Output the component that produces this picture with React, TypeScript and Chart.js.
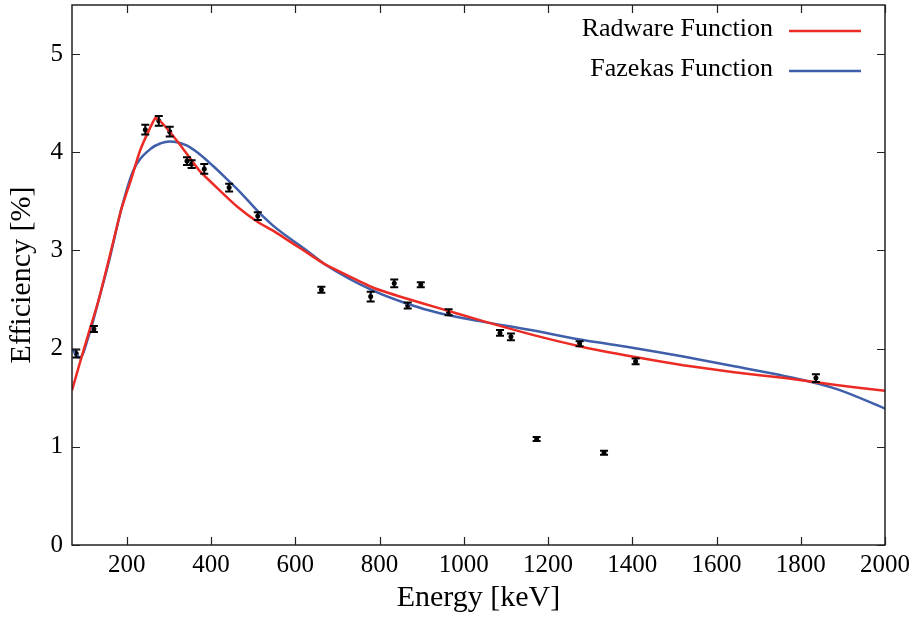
import React, { useEffect, useRef } from "react";
import { Chart, registerables } from "chart.js";

Chart.register(...registerables);

// Measured data points
const energies = [80, 122, 244, 276, 302, 343, 354, 384, 443, 511, 662, 779, 835, 867, 898, 964, 1086, 1112, 1173, 1275, 1333, 1408, 1836];
const efficiency = [1.95, 2.20, 4.23, 4.32, 4.21, 3.91, 3.88, 3.83, 3.64, 3.35, 2.60, 2.53, 2.665, 2.44, 2.65, 2.37, 2.16, 2.12, 1.08, 2.05, 0.94, 1.87, 1.70];
const errors = [0.04, 0.03, 0.05, 0.05, 0.05, 0.04, 0.04, 0.05, 0.04, 0.04, 0.03, 0.05, 0.04, 0.03, 0.025, 0.03, 0.03, 0.035, 0.02, 0.025, 0.02, 0.03, 0.04];

// Radware fit curve
const radwareE = [70, 89, 109, 133, 160, 187, 210, 231, 250, 268, 276, 294, 326, 373, 421, 464, 511, 548, 627, 670, 785, 864, 943, 1038, 1159, 1280, 1400, 1521, 1642, 1763, 1884, 2000];
const radwareEff = [1.575, 1.86, 2.15, 2.49, 2.95, 3.42, 3.72, 4.01, 4.20, 4.35, 4.33, 4.25, 4.08, 3.81, 3.61, 3.44, 3.29, 3.20, 2.98, 2.86, 2.62, 2.51, 2.41, 2.29, 2.145, 2.02, 1.92, 1.83, 1.76, 1.70, 1.63, 1.57];

// Fazekas fit curve
const fazekasE = [70, 78, 89, 109, 133, 160, 187, 215, 255, 280, 302, 342, 373, 405, 437, 468, 511, 548, 627, 670, 785, 864, 943, 1038, 1159, 1280, 1400, 1521, 1642, 1763, 1884, 2000];
const fazekasEff = [2.0, 1.95, 1.91, 2.12, 2.49, 2.93, 3.42, 3.81, 4.03, 4.09, 4.11, 4.07, 3.98, 3.86, 3.73, 3.60, 3.40, 3.25, 3.00, 2.86, 2.59, 2.46, 2.36, 2.28, 2.19, 2.09, 2.01, 1.92, 1.82, 1.72, 1.59, 1.39];

const xTicks = [200, 400, 600, 800, 1000, 1200, 1400, 1600, 1800, 2000];
const yTicks = [0, 1, 2, 3, 4, 5];

const RED = "#ec2b24";
const BLUE = "#3f5faa";
const FONT = "'Liberation Serif', 'DejaVu Serif', serif";

const decorPlugin = {
  id: "decor",
  afterDatasetsDraw(chart: any) {
    const ctx = chart.ctx;
    const xs = chart.scales.x;
    const ys = chart.scales.y;
    ctx.save();
    ctx.strokeStyle = "#000";
    ctx.lineWidth = 2;
    for (let i = 0; i < energies.length; i++) {
      const px = xs.getPixelForValue(energies[i]);
      const y1 = ys.getPixelForValue(efficiency[i] - errors[i]);
      const y2 = ys.getPixelForValue(efficiency[i] + errors[i]);
      ctx.beginPath();
      ctx.moveTo(px, y1);
      ctx.lineTo(px, y2);
      ctx.moveTo(px - 4, y1);
      ctx.lineTo(px + 4, y1);
      ctx.moveTo(px - 4, y2);
      ctx.lineTo(px + 4, y2);
      ctx.stroke();
    }
    ctx.restore();
  },
  afterDraw(chart: any) {
    const ctx = chart.ctx;
    const a = chart.chartArea;
    const xs = chart.scales.x;
    const ys = chart.scales.y;
    ctx.save();
    ctx.strokeStyle = "#222";
    ctx.lineWidth = 1.5;
    ctx.strokeRect(a.left, a.top, a.right - a.left, a.bottom - a.top);
    const tl = 8;
    ctx.beginPath();
    for (const v of xTicks) {
      const px = Math.round(xs.getPixelForValue(v)) + 0.5;
      ctx.moveTo(px, a.bottom);
      ctx.lineTo(px, a.bottom - tl);
      ctx.moveTo(px, a.top);
      ctx.lineTo(px, a.top + tl);
    }
    for (const v of yTicks) {
      const py = Math.round(ys.getPixelForValue(v)) + 0.5;
      ctx.moveTo(a.left, py);
      ctx.lineTo(a.left + tl, py);
      ctx.moveTo(a.right, py);
      ctx.lineTo(a.right - tl, py);
    }
    ctx.lineWidth = 1.2;
    ctx.stroke();

    // Legend
    const items = [
      { label: chart.data.datasets[0].label, color: RED, y: 29 },
      { label: chart.data.datasets[1].label, color: BLUE, y: 69 },
    ];
    ctx.font = `26px ${FONT}`;
    ctx.textAlign = "right";
    ctx.textBaseline = "middle";
    ctx.fillStyle = "#000";
    for (const it of items) {
      ctx.fillText(it.label, 773, it.y);
      ctx.beginPath();
      ctx.strokeStyle = it.color;
      ctx.lineWidth = 2.5;
      ctx.moveTo(789, it.y + 2);
      ctx.lineTo(861, it.y + 2);
      ctx.stroke();
    }
    ctx.restore();
  },
};

export default function App() {
  const ref = useRef<HTMLCanvasElement>(null);
  useEffect(() => {
    if (!ref.current) return;
    const chart = new Chart(ref.current, {
      type: "scatter",
      data: {
        datasets: [
          {
            label: "Radware Function",
            data: radwareE.map((e, i) => ({ x: e, y: radwareEff[i] })),
            showLine: true,
            borderColor: RED,
            borderWidth: 2.5,
            pointRadius: 0,
            tension: 0.15,
          },
          {
            label: "Fazekas Function",
            data: fazekasE.map((e, i) => ({ x: e, y: fazekasEff[i] })),
            showLine: true,
            borderColor: BLUE,
            borderWidth: 2.5,
            pointRadius: 0,
            cubicInterpolationMode: "monotone",
          },
          {
            label: "Data",
            data: energies.map((e, i) => ({ x: e, y: efficiency[i] })),
            showLine: false,
            pointRadius: 2.5,
            pointBackgroundColor: "#000",
            pointBorderColor: "#000",
            borderWidth: 0,
          },
        ],
      } as any,
      options: {
        animation: false,
        responsive: false,
        devicePixelRatio: 1,
        layout: { padding: { top: 5, right: 31, left: 0, bottom: 0 } },
        plugins: { legend: { display: false }, tooltip: { enabled: false } },
        scales: {
          x: {
            type: "linear",
            min: 70,
            max: 2000,
            grid: { display: false, drawTicks: false },
            border: { display: false },
            afterBuildTicks: (s: any) => {
              s.ticks = xTicks.map((v) => ({ value: v }));
            },
            afterFit: (s: any) => {
              s.height = 74;
              s.paddingLeft = 0;
              s.paddingRight = 0;
            },
            ticks: {
              color: "#000",
              font: { family: FONT, size: 25 },
              padding: 5,
              maxRotation: 0,
              autoSkip: false,
              callback: (v: any) => String(v),
            },
            title: {
              display: true,
              text: "Energy [keV]",
              color: "#000",
              font: { family: FONT, size: 30 },
              padding: { top: 0, bottom: 3 },
            },
          },
          y: {
            type: "linear",
            min: 0,
            max: 5.5,
            grid: { display: false, drawTicks: false },
            border: { display: false },
            afterBuildTicks: (s: any) => {
              s.ticks = yTicks.map((v) => ({ value: v }));
            },
            afterFit: (s: any) => {
              s.width = 72;
              s.paddingTop = 0;
              s.paddingBottom = 0;
            },
            ticks: {
              color: "#000",
              font: { family: FONT, size: 25 },
              padding: 9,
              autoSkip: false,
              callback: (v: any) => String(v),
            },
            title: {
              display: true,
              text: "Efficiency [%]",
              color: "#000",
              font: { family: FONT, size: 30 },
              padding: { top: 4, bottom: 0 },
            },
          },
        },
      } as any,
      plugins: [decorPlugin],
    });
    return () => chart.destroy();
  }, []);
  return (
    <div style={{ position: "fixed", left: 0, top: 0, width: 916, height: 619, background: "#fff" }}>
      <canvas ref={ref} width={916} height={619} style={{ width: 916, height: 619 }} />
    </div>
  );
}
